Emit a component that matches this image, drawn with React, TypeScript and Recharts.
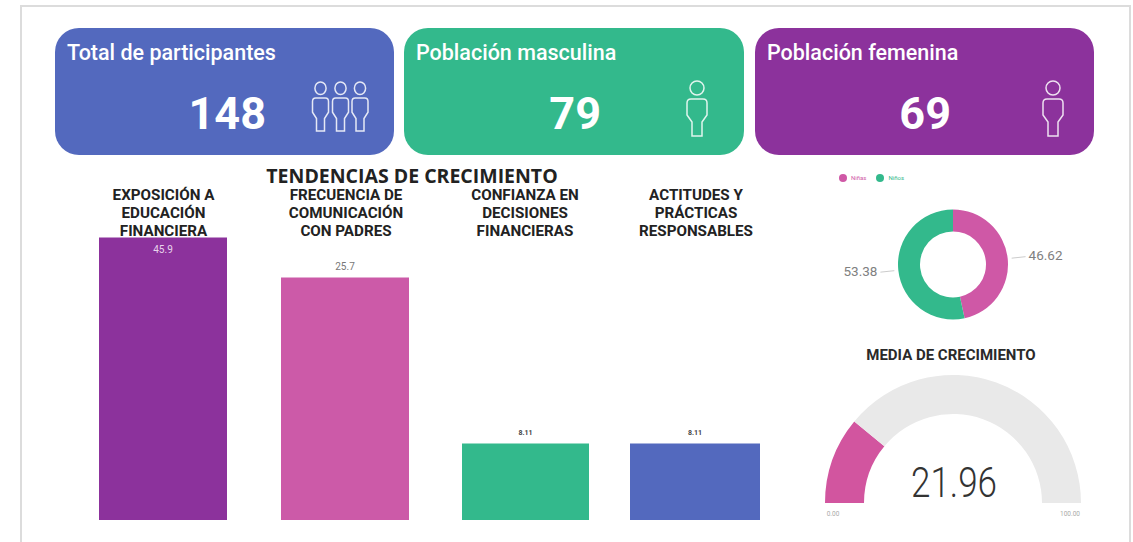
import React from "react";
import { BarChart, Bar, XAxis, YAxis, LabelList, PieChart, Pie, Cell, Legend } from "recharts";

const kpiTitles = ["Total de participantes", "Población masculina", "Población femenina"];
const kpiValues = [148, 79, 69];

const barTitles = [
  ["EXPOSICIÓN A", "EDUCACIÓN", "FINANCIERA"],
  ["FRECUENCIA DE", "COMUNICACIÓN", "CON PADRES"],
  ["CONFIANZA EN", "DECISIONES", "FINANCIERAS"],
  ["ACTITUDES Y", "PRÁCTICAS", "RESPONSABLES"],
];
const barValues = [45.9, 25.7, 8.11, 8.11];
const barAxisMax = [46, 30, 30, 30];

const genderNames = ["Niñas", "Niños"];
const genderValues = [46.62, 53.38];

const gaugeValue = 21.96;
const gaugeMax = 100;

const BLUE = "#5369BE";
const GREEN = "#33B98C";
const PURPLE = "#8C329C";
const PINK = "#CC5AA8";
const din = "Roboto, sans-serif";

const kpiCards = [
  { left: 55, width: 339, fill: BLUE, valueRight: 128, icons: [320.5, 340.5, 360], big: false },
  { left: 404, width: 340, fill: GREEN, valueRight: 143, icons: [697], big: true },
  { left: 755, width: 339, fill: PURPLE, valueRight: 143, icons: [1053], big: true },
];

const barPanels = [
  { left: 99, width: 128, center: 163.5, fill: PURPLE, labelPos: "insideTop", labelColor: "#E8D4EC", labelSize: 10, labelWeight: 400 },
  { left: 281, width: 128, center: 346, fill: PINK, labelPos: "top", labelColor: "#777", labelSize: 10, labelWeight: 400 },
  { left: 462, width: 127, center: 525, fill: GREEN, labelPos: "top", labelColor: "#444", labelSize: 7, labelWeight: 700 },
  { left: 630, width: 130, center: 696, fill: BLUE, labelPos: "top", labelColor: "#444", labelSize: 7, labelWeight: 700 },
];

const genderData = genderNames.map((name, i) => ({ name, value: genderValues[i] }));
const genderFills = ["#CF58A6", GREEN];
const gaugeData = [
  { name: "value", value: gaugeValue },
  { name: "rest", value: gaugeMax - gaugeValue },
];

function Person({ cx, top, sx, sy }: { cx: number; top: number; sx: number; sy: number }) {
  return (
    <g transform={`translate(${cx},${top}) scale(${sx},${sy})`} fill="none" stroke="#fff" strokeOpacity={0.85} strokeWidth={1.5}>
      <circle cx={0} cy={7} r={7} vectorEffect="non-scaling-stroke" />
      <path d="M-6 18 H6 Q10 18 10 22 V34 L5 41 V55 H-5 V41 L-10 34 V22 Q-10 18 -6 18 Z" vectorEffect="non-scaling-stroke" />
    </g>
  );
}

function KpiCard({ i }: { i: number }) {
  const card = kpiCards[i];
  return (
    <div style={{ position: "absolute", left: card.left, top: 28, width: card.width, height: 127, background: card.fill, borderRadius: 24, color: "#fff", fontFamily: din }}>
      <div style={{ position: "absolute", left: 12, top: 12, fontSize: 21.5, fontWeight: 500, whiteSpace: "nowrap" }}>{kpiTitles[i]}</div>
      <div style={{ position: "absolute", right: card.valueRight, top: 57, fontSize: 45, fontWeight: 700, lineHeight: "58px" }}>{kpiValues[i]}</div>
    </div>
  );
}

function BarPanel({ i }: { i: number }) {
  const p = barPanels[i];
  const data = [{ name: barTitles[i].join(" "), value: barValues[i] }];
  return (
    <>
      <div style={{ position: "absolute", left: p.center - 80, top: 186, width: 160, textAlign: "center", fontFamily: din, fontWeight: 700, fontSize: 15.2, lineHeight: "18px", color: "#222" }}>
        {barTitles[i].map((line) => (
          <div key={line}>{line}</div>
        ))}
      </div>
      <div style={{ position: "absolute", left: p.left, top: 200 }}>
        <BarChart width={p.width} height={320} data={data} margin={{ top: 37, right: 0, bottom: 0, left: 0 }} barCategoryGap={0}>
          <XAxis dataKey="name" hide />
          <YAxis hide domain={[0, barAxisMax[i]]} />
          <Bar dataKey="value" fill={p.fill} isAnimationActive={false}>
            <LabelList dataKey="value" position={p.labelPos as any} offset={8} fill={p.labelColor} fontSize={p.labelSize} fontWeight={p.labelWeight} fontFamily={din} />
          </Bar>
        </BarChart>
      </div>
    </>
  );
}

function donutLabel(props: any) {
  const { cx, cy, midAngle, outerRadius, value } = props;
  const rad = (midAngle * Math.PI) / 180;
  const dirX = Math.cos(rad);
  const dirY = -Math.sin(rad);
  const side = dirX > 0 ? 1 : -1;
  return (
    <g>
      <line x1={cx + dirX * (outerRadius + 4)} y1={cy + dirY * (outerRadius + 4)} x2={cx + dirX * (outerRadius + 18)} y2={cy + dirY * (outerRadius + 18)} stroke="#ccc" />
      <text x={cx + dirX * (outerRadius + 21)} y={cy + dirY * (outerRadius + 21)} dy={4} textAnchor={side > 0 ? "start" : "end"} fill="#808080" fontSize={13.5} fontFamily={din}>
        {value.toFixed(2)}
      </text>
    </g>
  );
}

export default function App() {
  return (
    <div style={{ position: "fixed", left: 0, top: 0, width: 1133, height: 542, background: "#fff", overflow: "hidden" }}>
      <div style={{ position: "absolute", left: 20, top: 5, width: 1107, height: 560, border: "2px solid #DCDCDC", boxSizing: "content-box" }} />

      {kpiCards.map((_, i) => (
        <KpiCard key={i} i={i} />
      ))}
      <svg width={1133} height={160} style={{ position: "absolute", left: 0, top: 0 }}>
        {kpiCards.map((card) =>
          card.icons.map((cx) =>
            card.big ? <Person key={cx} cx={cx} top={81} sx={1} sy={1} /> : <Person key={cx} cx={cx} top={82} sx={0.8} sy={0.89} />
          )
        )}
      </svg>

      <div style={{ position: "absolute", left: 212, width: 400, top: 166, textAlign: "center", fontFamily: "'Open Sans', sans-serif", fontWeight: 700, fontSize: 19.5, lineHeight: "19px", color: "#222" }}>
        TENDENCIAS DE CRECIMIENTO
      </div>

      {barPanels.map((_, i) => (
        <BarPanel key={i} i={i} />
      ))}

      <div style={{ position: "absolute", left: 800, top: 165 }}>
        <PieChart width={310} height={170} margin={{ top: 0, right: 0, bottom: 0, left: 0 }}>
          <Legend
            verticalAlign="top"
            align="left"
            iconType="circle"
            iconSize={8}
            wrapperStyle={{ left: 39, top: 9, width: 90, fontSize: 6, color: "#aaa", fontFamily: din, lineHeight: "8px" }}
          />
          <Pie data={genderData} dataKey="value" nameKey="name" cx={153} cy={91} innerRadius={33} outerRadius={55} startAngle={90} endAngle={-270} stroke="none" label={donutLabel} labelLine={false} isAnimationActive={false}>
            {genderData.map((d, i) => (
              <Cell key={d.name} fill={genderFills[i]} />
            ))}
          </Pie>
        </PieChart>
      </div>

      <div style={{ position: "absolute", left: 851, width: 200, top: 346, textAlign: "center", fontFamily: din, fontWeight: 700, fontSize: 15, lineHeight: "18px", color: "#2a2a2a" }}>
        MEDIA DE CRECIMIENTO
      </div>
      <div style={{ position: "absolute", left: 800, top: 340 }}>
        <PieChart width={320} height={200} margin={{ top: 0, right: 0, bottom: 0, left: 0 }}>
          <Pie data={gaugeData} dataKey="value" cx={153} cy={163} innerRadius={89} outerRadius={128} startAngle={180} endAngle={0} stroke="none" isAnimationActive={false}>
            <Cell fill="#D2559F" />
            <Cell fill="#E9E9E9" />
          </Pie>
          <text x={154} y={157} textAnchor="middle" fontFamily={din} fontWeight={300} fontSize={42} textLength={86} lengthAdjust="spacingAndGlyphs" fill="#333">
            {gaugeValue.toFixed(2)}
          </text>
          <text x={33} y={176} textAnchor="middle" fontFamily={din} fontSize={6.5} fill="#aaa">
            0.00
          </text>
          <text x={270} y={176} textAnchor="middle" fontFamily={din} fontSize={6.5} fill="#aaa">
            {gaugeMax.toFixed(2)}
          </text>
        </PieChart>
      </div>
    </div>
  );
}
